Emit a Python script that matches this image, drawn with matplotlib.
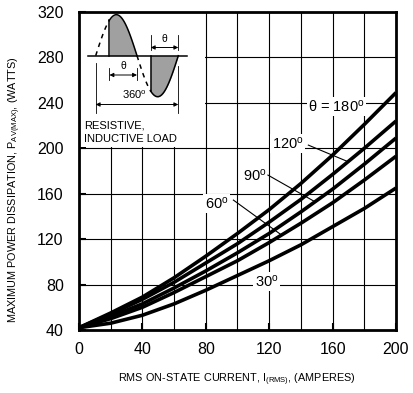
import numpy as np
import matplotlib
matplotlib.use('Agg')
import matplotlib.pyplot as plt
from matplotlib.patches import Rectangle
from matplotlib.ticker import MultipleLocator

plt.rcParams['font.family'] = ['Liberation Sans', 'DejaVu Sans']
plt.rcParams['mathtext.fontset'] = 'custom'
plt.rcParams['mathtext.rm'] = 'Liberation Sans'
plt.rcParams['mathtext.it'] = 'Liberation Sans:italic'

# data
current = [0, 20, 40, 60, 80, 100, 120, 140, 160, 180, 200]
p180 = [42, 55, 69, 86, 105, 125, 146, 169, 194, 221, 249]
p120 = [42, 54, 67, 82, 99, 116, 135, 155, 177, 200, 224]
p90 = [42, 52, 63, 77, 92, 108, 125, 144, 164, 186, 209]
p60 = [42, 50, 60, 73, 87, 101, 117, 134, 152, 172, 193]
p30 = [42, 46, 53, 63, 75, 88, 101, 115, 131, 147, 165]
x_ticks = [0, 40, 80, 120, 160, 200]
y_ticks = [40, 80, 120, 160, 200, 240, 280, 320]

W, H = 414, 393
fig = plt.figure(figsize=(W / 100, H / 100), dpi=100)
ax = fig.add_axes([79 / W, 1 - 330 / H, (396 - 79) / W, (330 - 12) / H])

for p in [p180, p120, p90, p60, p30]:
    ax.plot(current, p, color='black', lw=2.6, solid_joinstyle='round', solid_capstyle='butt', zorder=2)

ax.set_xlim(0, 200)
ax.set_ylim(40, 320)
ax.set_xticks(x_ticks)
ax.set_yticks(y_ticks)
ax.xaxis.set_minor_locator(MultipleLocator(20))
ax.set_axisbelow(True)
ax.grid(which='both', axis='x', color='black', lw=0.8)
ax.grid(which='major', axis='y', color='black', lw=0.8)
ax.tick_params(which='major', direction='in', length=5, width=1.5, labelsize=11.5, pad=9)
ax.tick_params(axis='y', pad=11)
ax.tick_params(which='minor', length=0)
for s in ax.spines.values():
    s.set_linewidth(2)
    s.set_zorder(3)

# white area behind the inset sketch
ax.add_patch(Rectangle((0, 201), 79.4, 119, fc='white', ec='none', zorder=1))

box = dict(fc='white', ec='none', pad=1)
ax.text(162.5, 237, 'θ = 180$^{\\mathrm{o}}$', fontsize=10.5, ha='center', va='center', bbox=box, zorder=2.5)
ax.text(131.5, 204, '120$^{\\mathrm{o}}$', fontsize=10.5, ha='center', va='center', bbox=box, zorder=2.5)
ax.text(110.7, 176, '90$^{\\mathrm{o}}$', fontsize=10.5, ha='center', va='center', bbox=box, zorder=2.5)
ax.text(86.8, 151, '60$^{\\mathrm{o}}$', fontsize=10.5, ha='center', va='center', bbox=box, zorder=2.5)
ax.text(118.3, 83, '30$^{\\mathrm{o}}$', fontsize=10.5, ha='center', va='center', bbox=box, zorder=2.5)
ax.plot([144.7, 169.9], [202.8, 188.1], color='black', lw=0.8, zorder=2.5)
ax.plot([119.2, 148.9], [176.4, 152.9], color='black', lw=0.8, zorder=2.5)
ax.plot([97.4, 127.9], [154.4, 123.5], color='black', lw=0.8, zorder=2.5)

# inset waveform sketch (drawn in pixel units)
ins = fig.add_axes([79 / W, 1 - 148 / H, 128 / W, 136 / H])
ins.set_xlim(79, 207)
ins.set_ylim(148, 12)
ins.axis('off')
ins.patch.set_visible(False)

z0, per, y0, amp = 95.7, 82.6, 55.7, 41
f1, z1 = z0 + per / 6, z0 + per / 2
f2, z2 = z1 + per / 6, z0 + per

def wave(a, b):
    xs = np.linspace(a, b, 60)
    return xs, y0 - amp * np.sin(2 * np.pi * (xs - z0) / per)

xs, ys = wave(f1, z1)
ins.fill_between(xs, ys, y0, color='#a0a0a0', lw=0)
ins.plot(xs, ys, color='black', lw=1.1)
ins.plot([f1, f1], [y0, ys[0]], color='black', lw=1.1)
xs, ys = wave(f2, z2)
ins.fill_between(xs, ys, y0, color='#a0a0a0', lw=0)
ins.plot(xs, ys, color='black', lw=1.1)
ins.plot([f2, f2], [y0, ys[0]], color='black', lw=1.1)
xs, ys = wave(z0, f1)
ins.plot(xs, ys, color='black', lw=1.1, ls=(0, (3, 3)))
xs, ys = wave(z1, f2)
ins.plot(xs, ys, color='black', lw=1.1, ls=(0, (3, 3)))
ins.plot([z0 - 8, z2 + 9], [y0, y0], color='black', lw=1.1)

for xv, ya, yb in [(z0, 63, 113), (f1, 68, 80), (z1, 68, 80), (f2, 35, 50), (z2, 35, 50), (z2, 66, 113)]:
    ins.plot([xv, xv], [ya, yb], color='black', lw=0.6)

arr = dict(arrowstyle='<|-|>', lw=0.7, color='black', mutation_scale=6, shrinkA=0, shrinkB=0)
ins.annotate('', xy=(z1, 75), xytext=(f1, 75), arrowprops=arr)
ins.annotate('', xy=(z2, 47.5), xytext=(f2, 47.5), arrowprops=arr)
ins.annotate('', xy=(z2, 104.5), xytext=(z0, 104.5), arrowprops=arr)
ins.text((f1 + z1) / 2, 71, 'θ', fontsize=7.5, ha='center', va='bottom')
ins.text((f2 + z2) / 2, 43.5, 'θ', fontsize=7.5, ha='center', va='bottom')
ins.text(134, 101, '360$^{\\mathrm{o}}$', fontsize=8, ha='center', va='bottom')
ins.text(84, 125, 'RESISTIVE,', fontsize=8, ha='left', va='center')
ins.text(84, 138.5, 'INDUCTIVE LOAD', fontsize=8, ha='left', va='center')

fig.text(237 / W, 1 - 380 / H, 'RMS ON-STATE CURRENT, I$_{\\mathrm{(RMS)}}$, (AMPERES)',
         fontsize=7.8, ha='center', va='center')
fig.text(15 / W, 1 - 190 / H, 'MAXIMUM POWER DISSIPATION, P$_{\\mathrm{AV(MAX)}}$, (WATTS)',
         fontsize=7.8, ha='center', va='center', rotation=90)

fig.savefig('out.png', dpi=100)
